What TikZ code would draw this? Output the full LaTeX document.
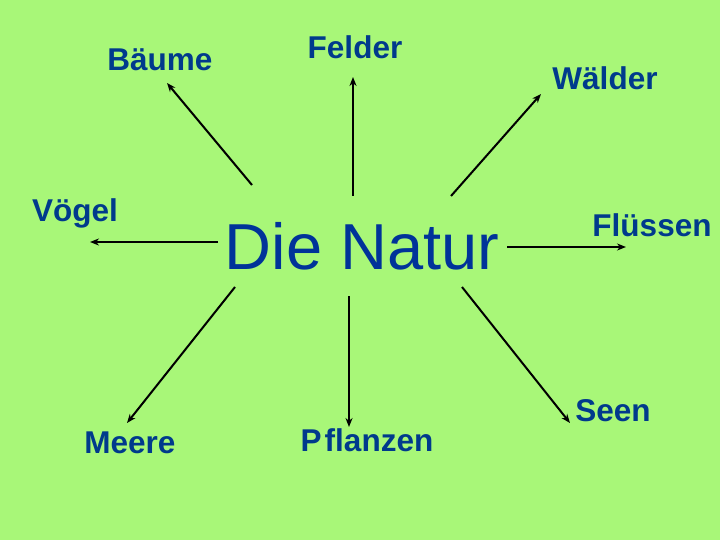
\documentclass[tikz,border=0pt]{standalone}
\usepackage{fontspec}
\setmainfont{Liberation Sans}
\usetikzlibrary{arrows.meta}
\definecolor{wiese}{RGB}{168,247,120}
\definecolor{tinte}{RGB}{0,58,140}
\definecolor{titel}{RGB}{0,51,153}

\tikzset{
  wort/.style = {text = tinte, font = \fontsize{31.5}{34}\selectfont\bfseries, inner sep = 0pt},
  pfeil/.style = {line width = 2pt, -{Stealth[length=9pt, width=7pt]}}
}

\begin{document}
\begin{tikzpicture}[x = 1pt, y = -1pt]
\fill[wiese] (0,0) rectangle (720,540);
\useasboundingbox (0,0) rectangle (720,540);
% Mitte
\node[text = titel, font = \fontsize{65}{70}\selectfont, inner sep = 0pt] (natur) at (362,246) {Die Natur};
% Woerter ringsum
\path (160,60) node[wort] (baeume) {Bäume};
\path (355,47) node[wort] (felder) {Felder};
\path (605,78) node[wort] (waelder) {Wälder};
\path (75,213) node[wort] (voegel) {Vögel};
\path (652,225) node[wort] (fluessen) {Flüssen};
\path (130,443) node[wort] (meere) {Meere};
\path (367,440) node[wort] (pflanzen) {P\kern3pt flanzen};
\path (613,411) node[wort] (seen) {Seen};
% Enden der Pfeile
\coordinate (a1) at (252,185);  \coordinate (b1) at (167,83);
\coordinate (a2) at (353,196);  \coordinate (b2) at (353,77);
\coordinate (a3) at (451,196);  \coordinate (b3) at (541,94);
\coordinate (a4) at (218,242);  \coordinate (b4) at (90,242);
\coordinate (a5) at (507,247);  \coordinate (b5) at (626,247);
\coordinate (a6) at (235,287);  \coordinate (b6) at (127,423);
\coordinate (a7) at (349,296);  \coordinate (b7) at (349,427);
\coordinate (a8) at (462,287);  \coordinate (b8) at (570,423);
\foreach \i in {1,...,8}
  \draw[pfeil] (a\i) -- (b\i);
\end{tikzpicture}
\end{document}
